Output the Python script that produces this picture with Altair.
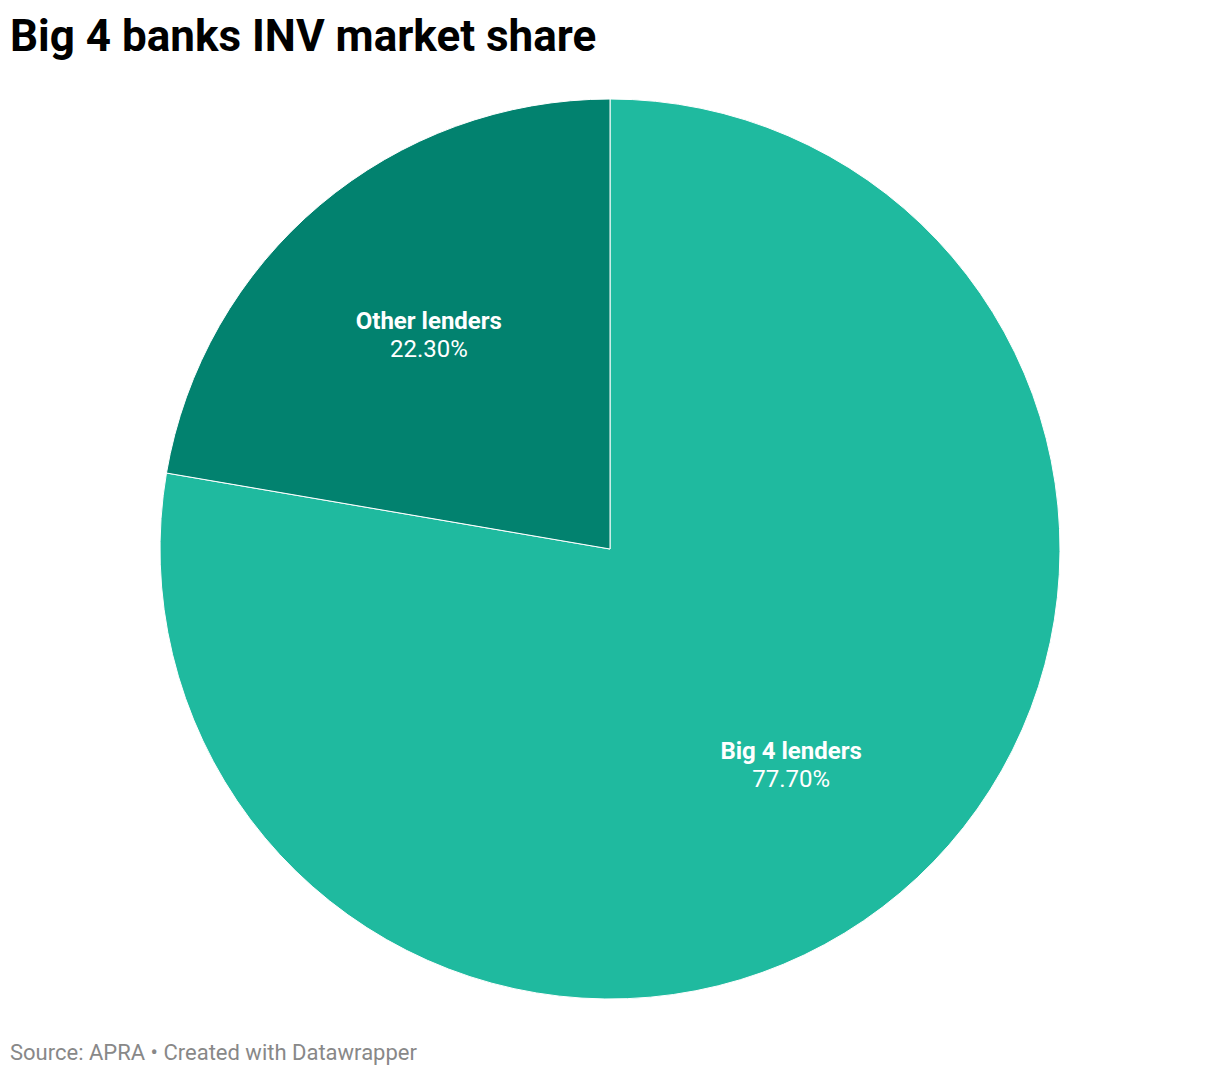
import altair as alt
import pandas as pd

categories = ["Big 4 lenders", "Other lenders"]
shares = [77.7, 22.3]
share_labels = ["77.70%", "22.30%"]
order_idx = [0, 1]
colors = ["#1fba9f", "#02826f"]
footer_text = ["Source: APRA • Created with Datawrapper"]

df = pd.DataFrame({"category": categories, "share": shares,
                   "label": share_labels, "idx": order_idx})

base = alt.Chart(df).encode(
    theta=alt.Theta("share:Q", stack=True),
    order=alt.Order("idx:Q"),
)
arcs = base.mark_arc(outerRadius=450, stroke="white", strokeWidth=1).encode(
    color=alt.Color("category:N", scale=alt.Scale(domain=categories, range=colors), legend=None)
)
names = base.mark_text(radius=281, dy=-12, font="Roboto", fontSize=24,
                       fontWeight="bold", color="white").encode(text="category:N")
vals = base.mark_text(radius=281, dy=16, font="Roboto", fontSize=24,
                      color="white").encode(text="label:N")

footer = alt.Chart(pd.DataFrame({"t": footer_text})).mark_text(
    align="left", baseline="alphabetic", font="Roboto", fontSize=22, color="#888888"
).encode(x=alt.value(2), y=alt.value(990), text="t:N")

chart = alt.layer(arcs, names, vals, footer).properties(
    width=1204, height=958,
    padding={"top": 62, "left": 0, "right": 0, "bottom": 40},
    autosize=alt.AutoSizeParams(type="none"),
    title=alt.Title("Big 4 banks INV market share", anchor="start", font="Roboto",
                    fontSize=44, fontWeight="bold", color="black", dx=2, offset=10),
).configure_view(stroke=None)

chart.save("out.html", embed_options={"renderer": "svg", "actions": False})
